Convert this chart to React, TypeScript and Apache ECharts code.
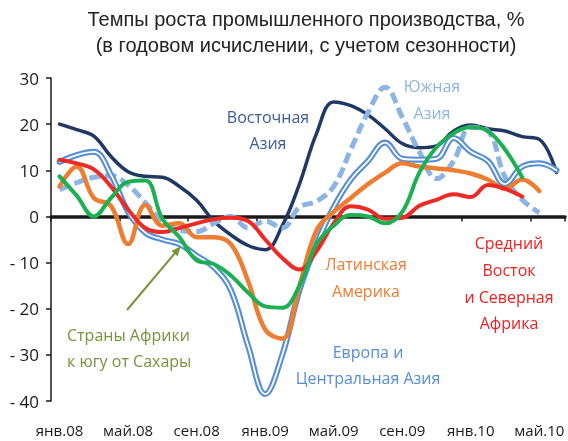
import React, { useEffect, useRef } from "react";
import * as echarts from "echarts";

const months = [
  "янв.08", "фев.08", "мар.08", "апр.08", "май.08", "июн.08", "июл.08", "авг.08", "сен.08", "окт.08", "ноя.08", "дек.08",
  "янв.09", "фев.09", "мар.09", "апр.09", "май.09", "июн.09", "июл.09", "авг.09", "сен.09", "окт.09", "ноя.09", "дек.09",
  "янв.10", "фев.10", "мар.10", "апр.10", "май.10", "июн.10",
];

const yTicks = [-40, -30, -20, -10, 0, 10, 20, 30];

const eastAsia = [20, 18.8, 17.4, 13, 9.7, 8.7, 8.5, 6.5, 3.5, -1, -4, -6.3, -7.2, -2, 7, 18, 24.8, 24, 22, 19, 15.8, 14.9, 15.3, 18.5, 19.8, 19, 18.5, 17.3, 16.7, 9.5];
const southAsia = [5.8, 7.3, 8.5, 8.8, 6.8, 3, -1, -3, -3.3, -1.5, 0, -2.5, -1, -2.5, 2, 3.3, 6.5, 14.5, 22.5, 28, 21.5, 14, 8.2, 12, 19.3, 18.5, 8.5, 3.6, 0.8, null];
const europeCA = [11.8, 13.3, 14, 9, 1, -3.5, -5, -6, -8.5, -11, -16, -28, -38.5, -30, -16, -6, 2, 8, 12, 16, 12.5, 12.3, 12.5, 17, 14, 12, 7, 10.8, 11.5, 10];
const latinAm = [6.5, 10.8, 4, 2.3, -6, 2.5, -2, -1.5, -4.5, -4.5, -6, -14, -24.5, -26.5, -15, -3, 1, 4, 7, 9.5, 11.5, 10.8, 10.4, 10, 9.3, 8, 6, 8, 5.5, null];
const mena = [12.3, 11.5, 10.2, 6.5, 1.5, -2.5, -3.4, -2.5, -1.5, -0.6, -0.3, -1, -5, -9, -11.5, -7.5, -1.5, 2.2, 1.5, -0.5, -0.3, 2.3, 3.6, 4.8, 4.2, 6.8, 6, 4.3, null, null];
const ssAfrica = [8.7, 4.5, 0, 4, 7.5, 7.8, -0.5, -4.5, -9.5, -10.3, -12.8, -16.5, -19.5, -19.8, -15, -6, -2, 0.3, 0, -1.5, 1, 9.5, 15, 18, 19.3, 18.5, 14.5, 8.5, null, null];

const FONT = "'Open Sans', 'Noto Sans', sans-serif";

export default function App() {
  const ref = useRef<HTMLDivElement>(null);
  useEffect(() => {
    document.body.style.margin = "0";
    const chart = echarts.init(ref.current!, null, { renderer: "svg" });
    const line = (name: string, data: any[], color: string, width: number, extra: any = {}) => ({
      name,
      type: "line",
      data,
      xAxisIndex: 0,
      smooth: 0.4,
      showSymbol: false,
      symbol: "none",
      connectNulls: false,
      lineStyle: { color, width, cap: "round", join: "round", ...extra },
      z: 3,
    });
    const arrowTip = [181, 246];
    const dx = 0.65, dy = -0.76;
    const base = [arrowTip[0] - 10 * dx, arrowTip[1] - 10 * dy];
    const px = 0.76 * 4, py = 0.65 * 4;
    chart.setOption({
      animation: false,
      grid: { left: 51, right: 3, top: 78, bottom: 40, containLabel: false },
      xAxis: [
        {
          type: "category",
          data: months,
          boundaryGap: true,
          position: "bottom",
          axisLine: { show: false, onZero: false },
          axisTick: { show: false },
          axisLabel: {
            interval: 3,
            color: "#1a1a1a",
            fontSize: 15,
            fontFamily: FONT,
            margin: 21,
          },
          splitLine: { show: false },
        },
        {
          type: "category",
          data: months,
          boundaryGap: true,
          position: "top",
          axisLine: { show: true, onZero: true, lineStyle: { color: "#1a1a1a", width: 3.5 } },
          axisTick: { show: true, interval: 3, inside: true, length: 5, lineStyle: { color: "#1a1a1a", width: 1.5 } },
          axisLabel: { show: false },
          splitLine: { show: false },
        },
      ],
      yAxis: {
        type: "value",
        min: yTicks[0],
        max: yTicks[yTicks.length - 1],
        interval: 10,
        axisLine: { show: true, lineStyle: { color: "#1a1a1a", width: 1.5 } },
        axisTick: { show: true, length: 5, lineStyle: { color: "#1a1a1a", width: 1.5 } },
        splitLine: { show: false },
        axisLabel: {
          color: "#1a1a1a",
          fontSize: 17,
          fontFamily: FONT,
          margin: 12,
          formatter: (v: number) => (v < 0 ? "- " + Math.abs(v) : String(v)),
        },
      },
      series: [
        line("Восточная Азия", eastAsia, "#1F3864", 3.5),
        line("Южная Азия", southAsia, "#8DB4E2", 5, { type: [11, 5], cap: "butt" }),
        line("Европа и Центральная Азия", europeCA, "#558ED5", 6),
        line("Европа и Центральная Азия (центр)", europeCA, "#ffffff", 1.8),
        line("Латинская Америка", latinAm, "#ED7D31", 4.5),
        line("Средний Восток и Северная Африка", mena, "#EE2A24", 4),
        line("Страны Африки к югу от Сахары", ssAfrica, "#1DB052", 4),
      ],
      graphic: [
        {
          type: "text",
          x: 306,
          y: 6,
          style: {
            text: "Темпы роста промышленного производства, %\n(в годовом исчислении, с учетом сезонности)",
            textAlign: "center",
            font: "20px 'Liberation Sans', Arial, sans-serif",
            lineHeight: 26,
            fill: "#222222",
          },
        },
        {
          type: "text", x: 268, y: 104,
          style: { text: "Восточная\nАзия", textAlign: "center", font: `16px ${FONT}`, lineHeight: 26, fill: "#3B5B9B" },
        },
        {
          type: "text", x: 432, y: 72,
          style: { text: "Южная\nАзия", textAlign: "center", font: `16px ${FONT}`, lineHeight: 27, fill: "#8DB4E2" },
        },
        {
          type: "text", x: 366, y: 250,
          style: { text: "Латинская\nАмерика", textAlign: "center", font: `16px ${FONT}`, lineHeight: 27, fill: "#ED7D31" },
        },
        {
          type: "text", x: 509, y: 230,
          style: { text: "Средний\nВосток\nи Северная\nАфрика", textAlign: "center", font: `16px ${FONT}`, lineHeight: 26.7, fill: "#EE2020" },
        },
        {
          type: "text", x: 368, y: 339,
          style: { text: "Европа и\nЦентральная Азия", textAlign: "center", font: `16px ${FONT}`, lineHeight: 26, fill: "#558ED5" },
        },
        {
          type: "text", x: 67, y: 322,
          style: { text: "Страны Африки\nк югу от Сахары", textAlign: "left", font: `16px ${FONT}`, lineHeight: 26, fill: "#77933C" },
        },
        {
          type: "line",
          shape: { x1: 127, y1: 310, x2: base[0], y2: base[1] },
          style: { stroke: "#77933C", lineWidth: 2 },
          z: 10,
        },
        {
          type: "polygon",
          shape: {
            points: [
              [arrowTip[0], arrowTip[1]],
              [base[0] + px, base[1] + py],
              [base[0] - px, base[1] - py],
            ],
          },
          style: { fill: "#77933C" },
          z: 10,
        },
      ],
    });
    return () => chart.dispose();
  }, []);
  return <div ref={ref} style={{ position: "fixed", left: 0, top: 0, width: 568, height: 441 }} />;
}
